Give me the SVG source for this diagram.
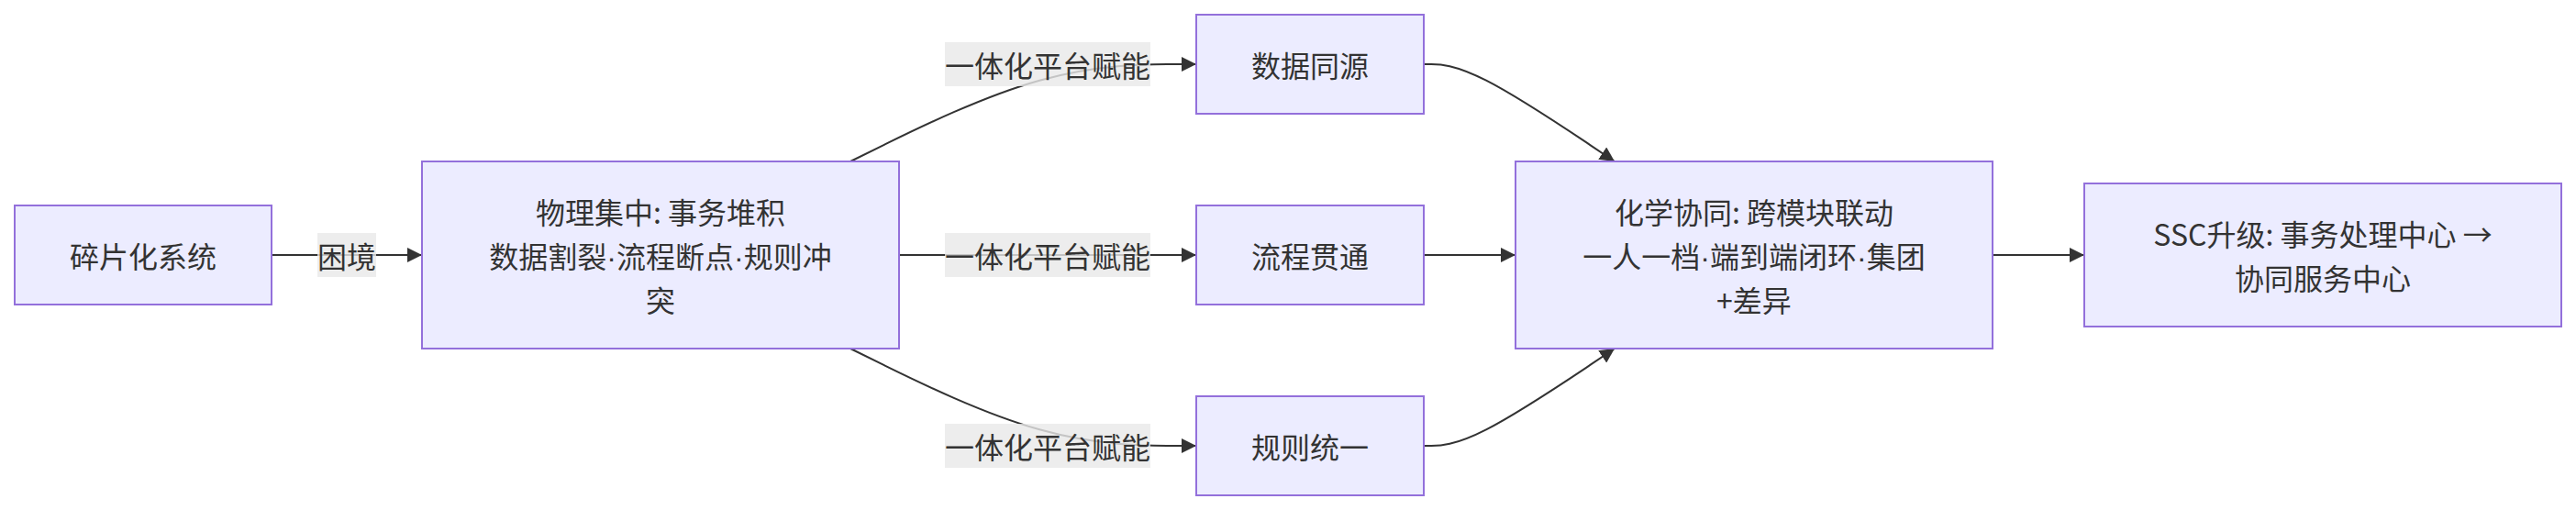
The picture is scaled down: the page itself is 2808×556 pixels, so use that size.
<svg xmlns="http://www.w3.org/2000/svg" width="2808" height="556" viewBox="0 0 2808 556">
  <style>
    .node rect { fill: #ECECFF; stroke: #9370DB; stroke-width: 2; }
    .edge { fill: none; stroke: #333333; stroke-width: 2; }
    .lblbg { fill: #e8e8e8; fill-opacity: 0.8; }
    text { font-family: "Noto Sans CJK SC", "Noto Sans", sans-serif; font-size: 32px; fill: #333333; text-anchor: middle; }
    .dot { font-family: "Liberation Sans", sans-serif; }
  </style>
  <defs>
    <marker id="arrow" viewBox="0 0 10 10" refX="10" refY="5" markerUnits="userSpaceOnUse" markerWidth="16" markerHeight="16" orient="auto">
      <path d="M0,0 L10,5 L0,10 z" fill="#333333"/>
    </marker>
  </defs>
  <rect width="2808" height="556" fill="#ffffff"/>

  <g id="connectors">
    <path class="edge" marker-end="url(#arrow)" d="M296,278 L460,278"/>
    <path class="edge" marker-end="url(#arrow)" d="M927,176 L962.8,158.3 C998.7,140.7 1070.3,105.3 1133.2,87.7 C1196,70 1250,70 1277,70 L1304,70"/>
    <path class="edge" marker-end="url(#arrow)" d="M980,278 L1304,278"/>
    <path class="edge" marker-end="url(#arrow)" d="M927,380 L962.8,397.7 C998.7,415.3 1070.3,450.7 1133.2,468.3 C1196,486 1250,486 1277,486 L1304,486"/>
    <path class="edge" marker-end="url(#arrow)" d="M1552,70 L1560.3,70 C1568.7,70 1585.3,70 1620,87.7 C1654.7,105.3 1707.3,140.7 1733.7,158.3 L1760,176"/>
    <path class="edge" marker-end="url(#arrow)" d="M1552,278 L1652,278"/>
    <path class="edge" marker-end="url(#arrow)" d="M1552,486 L1560.3,486 C1568.7,486 1585.3,486 1620,468.3 C1654.7,450.7 1707.3,415.3 1733.7,397.7 L1760,380"/>
    <path class="edge" marker-end="url(#arrow)" d="M2172,278 L2272,278"/>
  </g>

  <g id="edge-labels">
    <g id="label-kunjing">
      <rect class="lblbg" x="346" y="254" width="64" height="48"/>
      <text x="378" y="292">困境</text>
    </g>
    <g id="label-top">
      <rect class="lblbg" x="1030" y="46" width="224" height="48"/>
      <text x="1142" y="84">一体化平台赋能</text>
    </g>
    <g id="label-mid">
      <rect class="lblbg" x="1030" y="254" width="224" height="48"/>
      <text x="1142" y="292">一体化平台赋能</text>
    </g>
    <g id="label-bot">
      <rect class="lblbg" x="1030" y="462" width="224" height="48"/>
      <text x="1142" y="500">一体化平台赋能</text>
    </g>
  </g>

  <g id="node-fragment" class="node">
    <rect x="16" y="224" width="280" height="108"/>
    <text x="156" y="292">碎片化系统</text>
  </g>
  <g id="node-physical" class="node">
    <rect x="460" y="176" width="520" height="204"/>
    <text x="720" y="244">物理集中: 事务堆积</text>
    <text x="720" y="292">数据割裂<tspan class="dot">·</tspan>流程断点<tspan class="dot">·</tspan>规则冲</text>
    <text x="720" y="340">突</text>
  </g>
  <g id="node-data" class="node">
    <rect x="1304" y="16" width="248" height="108"/>
    <text x="1428" y="84">数据同源</text>
  </g>
  <g id="node-process" class="node">
    <rect x="1304" y="224" width="248" height="108"/>
    <text x="1428" y="292">流程贯通</text>
  </g>
  <g id="node-rules" class="node">
    <rect x="1304" y="432" width="248" height="108"/>
    <text x="1428" y="500">规则统一</text>
  </g>
  <g id="node-chemical" class="node">
    <rect x="1652" y="176" width="520" height="204"/>
    <text x="1912" y="244">化学协同: 跨模块联动</text>
    <text x="1912" y="292">一人一档<tspan class="dot">·</tspan>端到端闭环<tspan class="dot">·</tspan>集团</text>
    <text x="1912" y="340">+差异</text>
  </g>
  <g id="node-ssc" class="node">
    <rect x="2272" y="200" width="520" height="156"/>
    <text x="2532" y="268">SSC升级: 事务处理中心 →</text>
    <text x="2532" y="316">协同服务中心</text>
  </g>
</svg>
